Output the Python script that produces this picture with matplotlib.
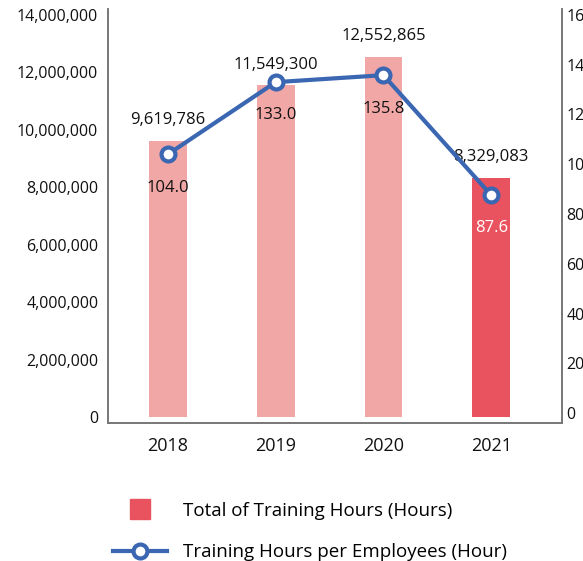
import matplotlib.pyplot as plt
from matplotlib.lines import Line2D
from matplotlib.ticker import FuncFormatter

plt.rcParams['font.family'] = ['Open Sans', 'DejaVu Sans']

years = ["2018", "2019", "2020", "2021"]
total_hours = [9619786, 11549300, 12552865, 8329083]
hours_per_emp = [104.0, 133.0, 135.8, 87.6]

bar_colors = ["#F2A7A7", "#F2A7A7", "#F2A7A7", "#E9525F"]
blue = "#3A66B2"
spine_col = "#777777"

fig = plt.figure(figsize=(5.83, 5.61), dpi=100)
ax = fig.add_axes([108 / 583, 138 / 561, 454 / 583, 414 / 561])
ax2 = ax.twinx()

x = list(range(len(years)))
ax.bar(x, total_hours, width=0.35, color=bar_colors, zorder=2)
ax.set_xlim(-0.556, 3.657)
ax.set_ylim(-210000, 14210000)
ax.set_yticks(range(0, 14000001, 2000000))
ax.yaxis.set_major_formatter(FuncFormatter(lambda v, p: f"{int(v):,}"))
ax.set_xticks(x)
ax.set_xticklabels(years)

ax2.plot(x, hours_per_emp, color=blue, lw=3, marker="o", ms=10,
         mfc="white", mec=blue, mew=3, zorder=5)
ax2.set_ylim(-4.0, 162.4)
ax2.set_yticks(range(0, 161, 20))

for a in (ax, ax2):
    a.spines["top"].set_visible(False)
    for s in ("left", "right", "bottom"):
        a.spines[s].set_color(spine_col)
        a.spines[s].set_linewidth(1.2)
    a.tick_params(length=0, labelsize=11.5, colors="#111111")
ax.tick_params(axis="y", pad=7)
ax.tick_params(axis="x", pad=10, labelsize=13)
ax2.tick_params(axis="y", pad=3)

# value labels over the bars
for xi, v in zip(x, total_hours):
    ax.annotate(f"{v:,}", (xi, v), xytext=(0, 15), textcoords="offset points",
                ha="center", va="center", fontsize=12, color="#111111")

# labels under the line points
for xi, v in zip(x, hours_per_emp):
    col = "white" if xi == 3 else "#111111"
    ax2.annotate(f"{v:.1f}", (xi, v), xytext=(0, -24), textcoords="offset points",
                 ha="center", va="center", fontsize=12, color=col, zorder=6)

handles = [
    Line2D([], [], ls="none", marker="s", ms=15, color="#E9525F"),
    Line2D([], [], color=blue, lw=3, marker="o", ms=10, mfc="white",
           mec=blue, mew=3),
]
labels = ["Total of Training Hours (Hours)", "Training Hours per Employees (Hour)"]
fig.legend(handles, labels, loc="upper left", bbox_to_anchor=(113 / 583, 1 - 502 / 561),
           frameon=False, fontsize=13.5, handlelength=2.9, handletextpad=0.85,
           labelspacing=1.25, borderaxespad=0, borderpad=0)

fig.savefig("out.png", dpi=100)
